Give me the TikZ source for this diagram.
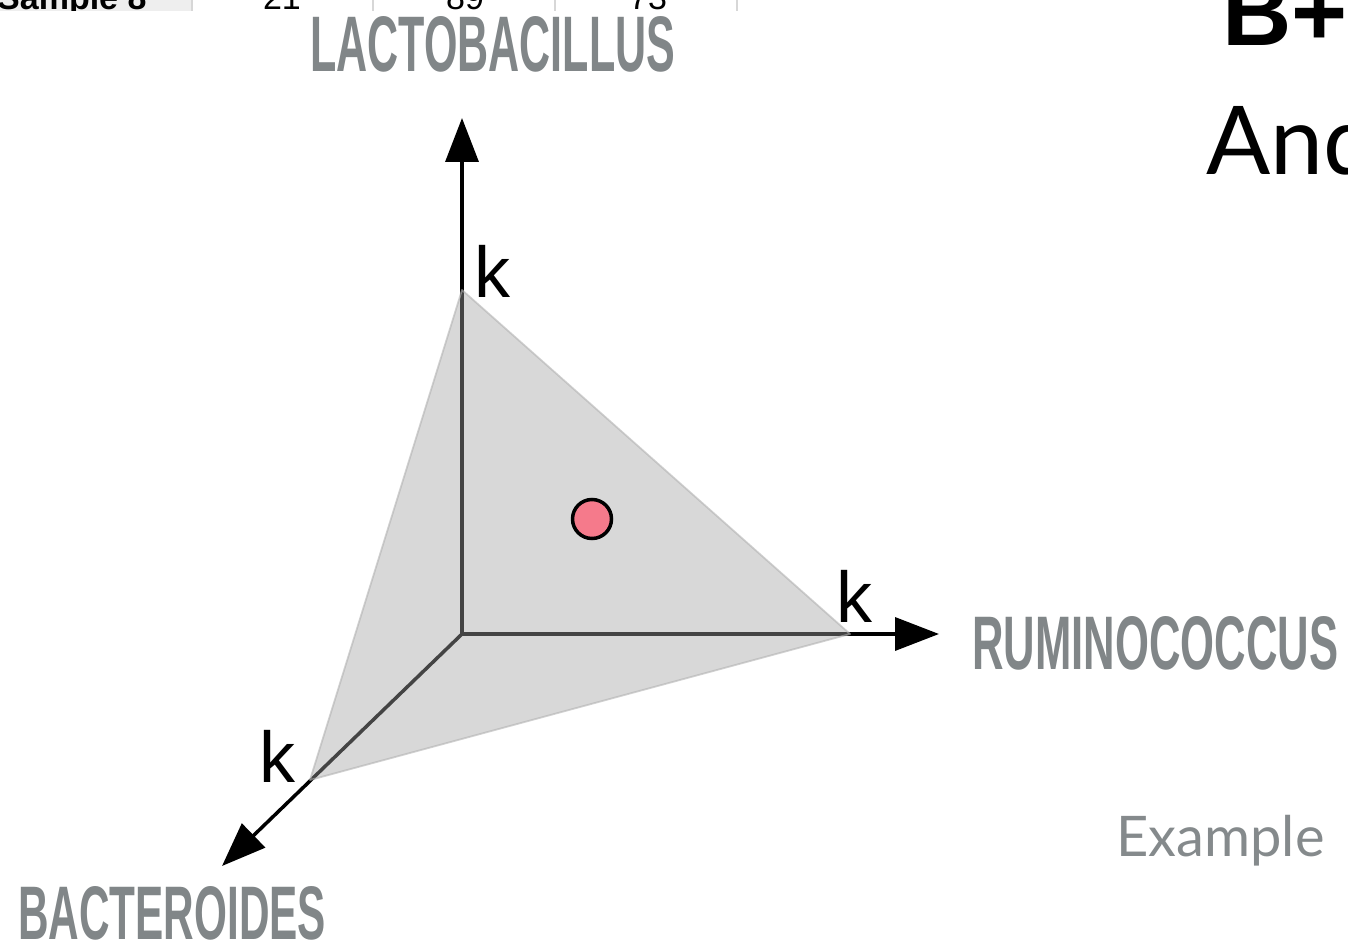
\documentclass[tikz,border=0pt]{standalone}
\usepackage{fontspec}
\usepackage{graphicx}
\setmainfont{Liberation Sans}
\newfontfamily\latofont{Lato}
\usetikzlibrary{arrows.meta}
\definecolor{labgray}{RGB}{129,134,136}
\definecolor{facegray}{RGB}{163,163,163}
\definecolor{dotpink}{RGB}{245,122,139}
\definecolor{cellgray}{RGB}{238,238,238}
\definecolor{sepgray}{RGB}{215,215,215}
\definecolor{exgray}{RGB}{133,138,140}
\tikzset{
  axisline/.style={line width=3.5pt,-{Triangle[length=44pt,width=33pt]}},
  face/.style={fill=facegray,fill opacity=0.42,draw=black!30,draw opacity=0.6,line width=1.8pt,line join=round},
  kmark/.style={anchor=base west,inner sep=0pt,font=\fontsize{72}{80}\selectfont},
  axlabel/.style={anchor=base west,inner sep=0pt,text=labgray},
  dotstyle/.style={circle,fill=dotpink,draw=black,line width=3.5pt,minimum size=39pt,inner sep=0pt},
  tabtext/.style={anchor=base,inner sep=0pt,font=\fontsize{34}{38}\selectfont},
}
\begin{document}
\begin{tikzpicture}[x=1pt,y=-1pt]
\useasboundingbox (0,0) rectangle (1348,941);
% table fragment at top
\begin{scope}
\clip (0,0) rectangle (760,11);
\fill[cellgray] (0,0) rectangle (192,11);
\foreach \xx in {192,373,555,737} \draw[sepgray,line width=1.5pt] (\xx,0) -- (\xx,11);
\node[anchor=base west,inner sep=0pt,font=\fontsize{34}{38}\selectfont\bfseries] (s8) at (-3,10) {Sample 8};
\node[tabtext] (n21) at (282,10) {21};
\node[tabtext] (n89) at (465,10) {89};
\node[tabtext] (n73) at (648,10) {73};
\end{scope}
% slide text fragments on the right
\node[anchor=base west,inner sep=0pt,font=\fontsize{96}{100}\selectfont\bfseries] (bplus) at (1222,46) {B+};
\node[anchor=base west,inner sep=0pt,font=\latofont\fontsize{95}{100}\selectfont] (and) at (1206,175) {And};
\node[anchor=base west,inner sep=0pt,text=exgray,font=\latofont\fontsize{56}{62}\selectfont] (example) at (1116,856) {Example};
% axes
\coordinate (O) at (462,634);
\coordinate (T) at (462,290);
\coordinate (R) at (850,634);
\coordinate (L) at (310,780);
\coordinate (Ttip) at (462,118);
\coordinate (Rtip) at (939,634);
\coordinate (Ltip) at (222,866);
\draw[axisline] (O) -- (Ttip);
\draw[axisline] (O) -- (Rtip);
\draw[axisline] (O) -- (Ltip);
% simplex face
\filldraw[face] (T) -- (R) -- (L) -- cycle;
% point
\node[dotstyle] (pt) at (592,519) {};
% k marks
\node[kmark] (kt) at (474,297) {k};
\node[kmark] (kr) at (836,622) {k};
\node[kmark] (kl) at (259,782) {k};
% axis labels
\node[axlabel] (lacto) at (310,72) {\resizebox{365pt}{55pt}{\bfseries LACTOBACILLUS}};
\node[axlabel] (rumino) at (972,669) {\resizebox{366pt}{53pt}{\bfseries RUMINOCOCCUS}};
\node[axlabel] (bactero) at (18,939) {\resizebox{308pt}{53pt}{\bfseries BACTEROIDES}};
\end{tikzpicture}
\end{document}
